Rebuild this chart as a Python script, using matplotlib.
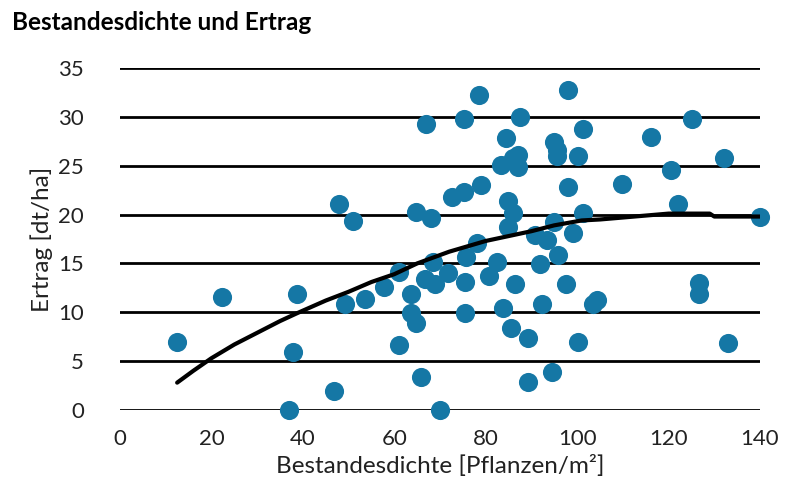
import matplotlib.pyplot as plt

# Messwerte: Bestandesdichte [Pflanzen/m²] und Ertrag [dt/ha]
dichte = [12.5, 22.3, 37.0, 37.9, 38.7, 46.8, 47.8, 49.3, 51.0, 53.6,
          57.8, 61.0, 61.0, 63.7, 63.7, 64.8, 64.8, 65.8, 66.7, 66.9,
          68.0, 68.5, 68.9, 70.0, 71.8, 72.6, 75.2, 75.3, 75.7, 75.5,
          75.5, 78.1, 78.5, 79.0, 80.7, 82.5, 83.4, 83.8, 84.4, 84.9,
          84.9, 85.5, 86.0, 86.0, 86.4, 87.1, 87.1, 87.5, 89.2, 89.2,
          90.8, 91.8, 92.3, 93.4, 94.5, 95.0, 95.0, 95.6, 95.6, 95.8,
          97.6, 98.0, 98.0, 99.1, 100.2, 100.2, 101.3, 101.3, 103.5, 104.3,
          109.8, 116.2, 120.5, 122.0, 125.1, 126.7, 126.7, 132.1, 133.0, 140.0]
ertrag = [7.0, 11.6, 0.0, 5.9, 11.9, 1.9, 21.1, 10.9, 19.3, 11.4,
          12.6, 14.1, 6.7, 11.9, 9.9, 8.9, 20.3, 3.4, 13.4, 29.3,
          19.6, 15.1, 12.9, 0.0, 14.0, 21.8, 29.8, 22.3, 15.7, 13.1,
          9.9, 17.1, 32.2, 23.0, 13.7, 15.1, 25.1, 10.4, 27.8, 21.4,
          18.7, 8.4, 25.8, 20.2, 12.9, 26.1, 24.9, 30.0, 7.4, 2.9,
          17.9, 14.9, 10.9, 17.4, 3.9, 27.4, 19.2, 26.6, 26.0, 15.9,
          12.9, 32.8, 22.8, 18.1, 26.0, 7.0, 28.8, 20.2, 10.9, 11.3,
          23.1, 27.9, 24.6, 21.1, 29.8, 13.0, 11.9, 25.8, 6.9, 19.8]

# Trendlinie
trend_x = [12.5, 16, 20, 25, 30, 35, 38.7, 45, 50, 55, 60, 65, 72, 80,
           85, 90, 95, 101, 105, 110, 115, 120, 129, 130, 140]
trend_y = [2.8, 4.0, 5.3, 6.7, 7.9, 9.1, 9.9, 11.2, 12.1, 13.1, 13.9, 15.0, 16.2, 17.3,
           17.8, 18.3, 18.9, 19.4, 19.5, 19.7, 19.9, 20.1, 20.1, 19.8, 19.8]

plt.rcParams["font.family"] = ["Lato", "DejaVu Sans"]

fig = plt.figure(figsize=(8, 4.95), dpi=100)
ax = fig.add_axes([0.15, 0.1717, 0.80, 0.6909])

ax.scatter(dichte, ertrag, s=190, color="#1577a5", zorder=3, clip_on=False, linewidths=0)
ax.plot(trend_x, trend_y, color="black", lw=3, zorder=4, solid_capstyle="round",
        solid_joinstyle="round")

ax.set_xlim(0, 140)
ax.set_ylim(0, 35)
ax.set_xticks(range(0, 141, 20))
ax.set_yticks(range(0, 36, 5))
ax.yaxis.grid(True, color="black", lw=2)
ax.set_axisbelow(True)
for s in ax.spines.values():
    s.set_visible(False)
ax.tick_params(axis="both", length=0, labelsize=16, colors="#222222")
ax.tick_params(axis="y", pad=26)
ax.tick_params(axis="x", pad=14)

ax.set_xlabel("Bestandesdichte [Pflanzen/m²]", fontsize=17.5, color="#222222", labelpad=4)
ax.set_ylabel("Ertrag [dt/ha]", fontsize=17.5, color="#222222", labelpad=4)
fig.text(0.015, 0.955, "Bestandesdichte und Ertrag", fontsize=17.5, fontweight="bold",
         va="center", ha="left")

fig.savefig("out.png", dpi=100)
